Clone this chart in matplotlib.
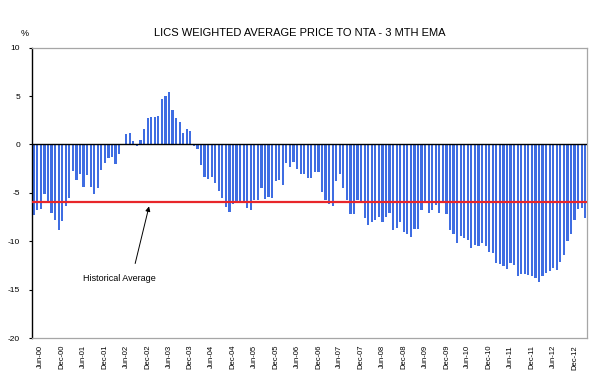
import numpy as np
import matplotlib
matplotlib.use('Agg')
import matplotlib.pyplot as plt

# LICs weighted average price to NTA, 3 month EMA (%), monthly Apr-00 to Mar-13
months = ['Jan', 'Feb', 'Mar', 'Apr', 'May', 'Jun',
          'Jul', 'Aug', 'Sep', 'Oct', 'Nov', 'Dec']
labels = []
for k in range(156):
    m = 3 + k
    labels.append(f"{months[m % 12]}-{(m // 12):02d}")

values = [
    # Apr-00 .. Apr-02
    -7.3, -6.8, -6.7, -5.1, -6.0, -7.1, -7.8, -8.8, -7.9, -6.4,
    -5.5, -2.7, -3.7, -3.1, -4.4, -3.2, -4.4, -5.1, -4.5, -2.6,
    -1.9, -1.4, -1.3, -2.0, -1.0, 0.1,
    # May-02 .. Dec-03 hump
    1.1, 1.2, 0.4, -0.2, 0.5, 1.6, 2.75, 2.8, 2.8, 2.9,
    4.7, 5.0, 5.4, 3.6, 2.75, 2.3, 1.2, 1.6, 1.4,
    # Jan-04 .. May-05
    -0.2, -0.5, -2.1, -3.4, -3.6, -3.4, -4.0, -4.8, -5.5, -6.5,
    -7.0, -6.1, -5.9, -5.9, -5.9, -6.6, -6.8,
    # Jun-05 .. Dec-07
    -5.7, -5.7, -4.5, -5.6, -5.4, -5.5, -3.8, -3.7, -4.2, -1.9,
    -2.3, -1.8, -2.5, -3.0, -3.1, -3.5, -3.5, -2.8, -2.8, -4.9,
    -5.7, -6.2, -6.4, -3.8, -3.0, -4.5, -5.7, -7.2, -7.2, -5.7,
    -5.8,
    # Jan-08 .. Jul-10
    -7.6, -8.3, -8.0, -7.8, -7.5, -8.0, -7.5, -7.1, -8.8, -8.6,
    -8.0, -9.0, -9.3, -9.6, -8.7, -8.7, -6.8, -6.0, -7.1, -6.8,
    -6.3, -7.1, -5.9, -7.2, -8.8, -9.3, -10.2, -9.5, -9.7, -9.9,
    -10.7,
    # Aug-10 .. Mar-13
    -10.4, -10.5, -10.2, -10.5, -11.1, -11.2, -12.3, -12.4, -12.6, -12.9,
    -12.3, -12.5, -13.6, -13.4, -13.4, -13.5, -13.6, -13.8, -14.2, -13.6,
    -13.3, -13.1, -12.8, -13.0, -12.1, -11.4, -10.0, -9.3, -7.8, -6.7,
    -6.6, -7.6,
]

hist_avg = -5.9
yticks = [10, 5, 0, -5, -10, -15, -20]

font = 'Liberation Sans'
fig = plt.figure(figsize=(5.99, 3.87), dpi=100)
ax = fig.add_axes([0.0534, 0.1266, 0.9266, 0.7501])

x = np.arange(len(values))
ax.bar(x, values, width=0.62, color='#3f6de2', edgecolor='none', zorder=2)
ax.axhline(0, color='black', lw=1.0, zorder=3)
ax.axhline(hist_avg, color='#e8262a', lw=1.6, zorder=4)

ax.set_xlim(-0.5, len(values) - 0.5)
ax.set_ylim(-20, 10)
ax.set_yticks(yticks)
ax.set_yticklabels([str(v) for v in yticks], fontsize=6, family=font)
ax.tick_params(axis='y', length=2.5, width=0.8, pad=6, direction='out')

tick_idx = list(range(2, len(values), 6))
ax.set_xticks(tick_idx)
ax.set_xticklabels([labels[i] for i in tick_idx], rotation=90,
                   fontsize=5.5, family=font)
ax.tick_params(axis='x', length=0, pad=5)

for side in ['top', 'right', 'bottom']:
    ax.spines[side].set_color('#a6a6a6')
    ax.spines[side].set_linewidth(0.9)
ax.spines['left'].set_color('black')
ax.spines['left'].set_linewidth(1.0)

fig.text(0.5, 0.915, 'LICS WEIGHTED AVERAGE PRICE TO NTA - 3 MTH EMA',
         ha='center', va='center', fontsize=8, family=font)
fig.text(0.042, 0.913, '%', ha='center', va='center', fontsize=6.5, family=font)

# arrow pointing at the historical average line
ax.annotate('', xy=(32.4, -6.4), xytext=(28.5, -12.3),
            arrowprops=dict(arrowstyle='-|>', color='black', lw=0.7,
                            mutation_scale=7, shrinkA=0, shrinkB=0))
ax.text(24.0, -13.8, 'Historical Average', ha='center', va='center',
        fontsize=6.5, family=font)

fig.savefig('out.png', dpi=100, facecolor='white')
